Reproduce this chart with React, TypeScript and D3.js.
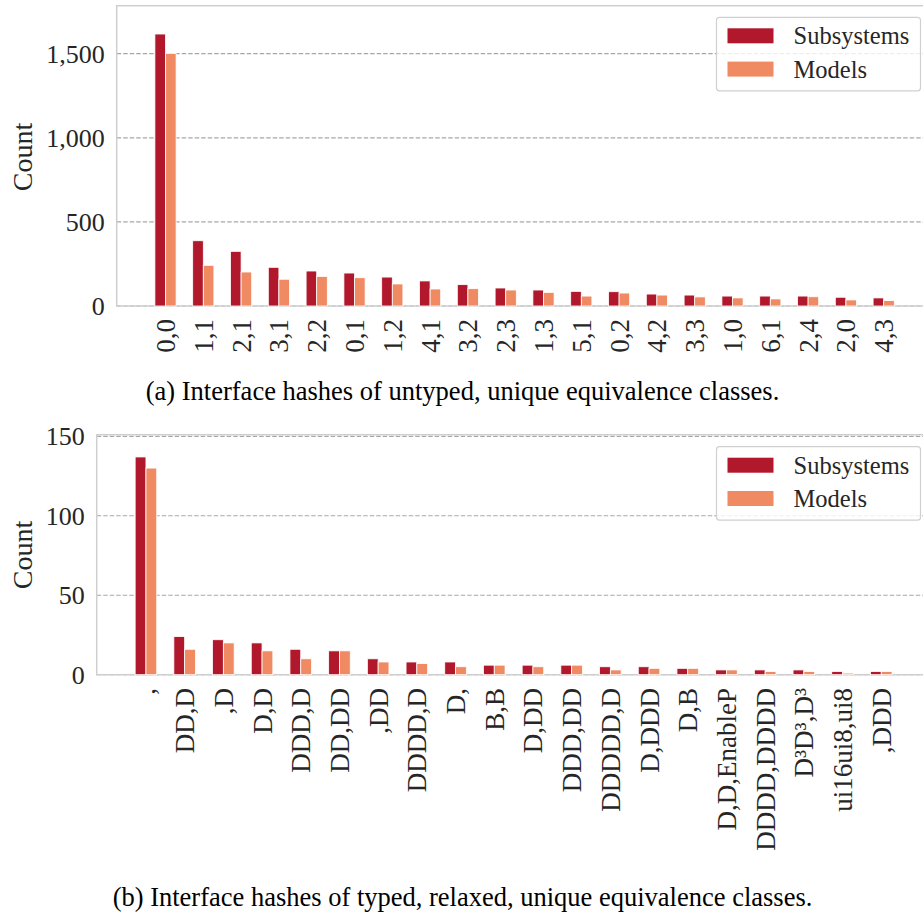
import React from "react";
import * as d3 from "d3";

const seriesNames = ["Subsystems", "Models"];
const seriesColors = ["#b2182b", "#ef8a62"];

const catsA = ["0,0", "1,1", "2,1", "3,1", "2,2", "0,1", "1,2", "4,1", "3,2", "2,3", "1,3", "5,1", "0,2", "4,2", "3,3", "1,0", "6,1", "2,4", "2,0", "4,3"];
const subsA = [1617, 388, 325, 230, 208, 196, 172, 149, 127, 107, 95, 87, 85, 71, 65, 59, 59, 59, 52, 48];
const modelsA = [1502, 242, 202, 159, 176, 168, 131, 101, 103, 95, 81, 59, 77, 65, 54, 48, 42, 55, 36, 32];
const ticksA = [0, 500, 1000, 1500];
const captionA = "(a) Interface hashes of untyped, unique equivalence classes.";

const catsB = [",", "DD,D", ",D", "D,D", "DDD,D", "DD,DD", ",DD", "DDDD,D", "D,", "B,B", "D,DD", "DDD,DD", "DDDDD,D", "D,DDD", "D,B", "D,D,EnableP", "DDDD,DDDD", "D³D³,D³", "ui16ui8,ui8", ",DDD"];
const subsB = [137, 24, 22, 20, 16, 15, 10, 8, 8, 6, 6, 6, 5, 5, 4, 3, 3, 3, 2, 2];
const modelsB = [130, 16, 20, 15, 10, 15, 8, 7, 5, 6, 5, 6, 3, 4, 4, 3, 2, 2, 1, 2];
const ticksB = [0, 50, 100, 150];
const captionB = "(b) Interface hashes of typed, relaxed, unique equivalence classes.";

const FONT = "'Liberation Serif', 'Times New Roman', serif";

type PanelProps = {
  cats: string[];
  series: number[][];
  ticks: number[];
  tickRef: number;
  y0: number;
  yRefPx: number;
  top: number;
  left: number;
  right: number;
  bandStart: number;
  step: number;
  barW: number;
  labelTop: number;
  countY: number;
  legendTop: number;
  caption: string;
  captionY: number;
};

function Panel(p: PanelProps) {
  const y = d3.scaleLinear().domain([0, p.tickRef]).range([p.y0, p.yRefPx]);
  const x = d3
    .scaleBand<string>()
    .domain(p.cats)
    .range([p.bandStart, p.bandStart + p.step * p.cats.length])
    .padding(0);
  const xs = d3.scaleBand<string>().domain(seriesNames).range([-p.barW, p.barW]).padding(0);
  const fmt = d3.format(",");
  const cx = (c: string) => (x(c) as number) + x.bandwidth() / 2;
  const lx = 716.5;
  const lw = 204;
  return (
    <g>
      {p.ticks.map((t) => (
        <line key={"g" + t} x1={p.left} x2={p.right} y1={y(t)} y2={y(t)} stroke="#a8a8a8" strokeWidth={1.2} strokeDasharray="4.5,2" />
      ))}
      <rect x={p.left} y={p.top} width={p.right - p.left} height={p.y0 - p.top} fill="none" stroke="#cfcfcf" strokeWidth={1.5} />
      {p.cats.map((c, i) => (
        <g key={"b" + i}>
          {seriesNames.map((s, k) => (
            <rect
              key={s}
              x={cx(c) + (xs(s) as number)}
              y={y(p.series[k][i])}
              width={xs.bandwidth()}
              height={p.y0 - y(p.series[k][i])}
              fill={seriesColors[k]}
              stroke="#ffffff"
              strokeWidth={0.8}
            />
          ))}
        </g>
      ))}
      {p.ticks.map((t) => (
        <text key={"t" + t} x={p.left - 12} y={y(t)} dy="0.35em" textAnchor="end" fontFamily={FONT} fontSize={26} fill="#262626">
          {fmt(t)}
        </text>
      ))}
      <text transform={`translate(22,${p.countY}) rotate(-90)`} textAnchor="middle" dy="0.35em" fontFamily={FONT} fontSize={28} fill="#262626">
        Count
      </text>
      {p.cats.map((c) => (
        <text key={"x" + c} transform={`translate(${cx(c)},${p.labelTop}) rotate(-90)`} textAnchor="end" dy="0.35em" fontFamily={FONT} fontSize={27} fill="#262626">
          {c}
        </text>
      ))}
      <rect x={lx} y={p.legendTop} width={lw} height={73.5} rx={3} fill="#ffffff" fillOpacity={0.8} stroke="#d0d0d0" strokeWidth={1.2} />
      {seriesNames.map((s, k) => (
        <g key={"l" + s}>
          <rect x={lx + 11} y={p.legendTop + 11 + k * 33.3} width={46} height={15} fill={seriesColors[k]} />
          <text x={lx + 77} y={p.legendTop + 27 + k * 33.3} fontFamily={FONT} fontSize={24.5} fill="#262626">
            {s}
          </text>
        </g>
      ))}
      <text x={462.5} y={p.captionY} textAnchor="middle" fontFamily={FONT} fontSize={26.5} fill="#000">
        {p.caption}
      </text>
    </g>
  );
}

export default function App() {
  return (
    <svg width={923} height={917} style={{ position: "absolute", left: 0, top: 0, background: "#fff" }}>
      <rect width={923} height={917} fill="#fff" />
      <Panel
        cats={catsA}
        series={[subsA, modelsA]}
        ticks={ticksA}
        tickRef={1500}
        y0={306}
        yRefPx={53.7}
        top={5.7}
        left={116.7}
        right={936}
        bandStart={146.6}
        step={37.8}
        barW={10.6}
        labelTop={319}
        countY={157}
        legendTop={17.3}
        caption={captionA}
        captionY={400}
      />
      <Panel
        cats={catsB}
        series={[subsB, modelsB]}
        ticks={ticksB}
        tickRef={150}
        y0={674.7}
        yRefPx={436.3}
        top={434.7}
        left={96.7}
        right={936}
        bandStart={126.6}
        step={38.7}
        barW={10.8}
        labelTop={688}
        countY={555}
        legendTop={446.7}
        caption={captionB}
        captionY={906}
      />
    </svg>
  );
}
